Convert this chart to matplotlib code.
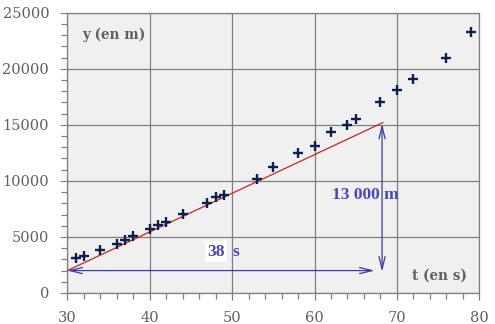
import matplotlib
matplotlib.use("Agg")
import matplotlib.pyplot as plt
from matplotlib.ticker import MultipleLocator

# measured points (t in s, y in m)
t_vals = [31, 32, 34, 36, 37, 38, 40, 41, 42, 44, 47, 48, 49,
          53, 55, 58, 60, 62, 64, 65, 68, 70, 72, 76, 79]
y_vals = [3100, 3300, 3800, 4400, 4700, 5050, 5700, 6050, 6350, 7050, 8050, 8600, 8750,
          10150, 11200, 12500, 13100, 14350, 14950, 15550, 17050, 18100, 19100, 21000, 23300]

# tangent line and its construction
line_t = [30, 68.3]
line_y = [2000, 15200]
dt_label = "38"
dy_label = "13 000 m"

grid_col = "#808080"
text_col = "#606060"
blue = "#4646c4"
arrow_col = "#3a3aa8"

fig = plt.figure(figsize=(4.95, 3.24), dpi=100)
ax = fig.add_axes([67.3 / 495, 1 - 293 / 324, (479.3 - 67.3) / 495, (293 - 12.7) / 324])
ax.set_facecolor("#f0f0f0")

ax.set_xlim(30, 80)
ax.set_ylim(0, 25000)
ax.xaxis.set_major_locator(MultipleLocator(10))
ax.xaxis.set_minor_locator(MultipleLocator(2))
ax.yaxis.set_major_locator(MultipleLocator(5000))
ax.yaxis.set_minor_locator(MultipleLocator(1000))
ax.grid(True, which="major", color=grid_col, linewidth=0.9)
ax.set_axisbelow(True)
for s in ax.spines.values():
    s.set_color(grid_col)
    s.set_linewidth(0.9)
ax.tick_params(which="major", direction="out", length=5, width=0.9, color=grid_col,
               labelsize=10.5, labelcolor=text_col, pad=8)
ax.tick_params(which="minor", direction="out", length=4, width=0.9, color=grid_col)
for lab in ax.get_xticklabels() + ax.get_yticklabels():
    lab.set_family("DejaVu Serif")

ax.plot(line_t, line_y, color="#cc2222", linewidth=0.9, zorder=3)
ax.plot(t_vals, y_vals, linestyle="none", marker="+", markersize=6.5, markeredgewidth=1.7,
        color="#0c1f4e", zorder=4)

arrow = dict(arrowstyle="<->,head_length=0.9,head_width=0.22", color=arrow_col,
             linewidth=0.9, shrinkA=0, shrinkB=0)
ax.annotate("", xy=(67.3, 2000), xytext=(30, 2000), arrowprops=arrow, zorder=3)
ax.annotate("", xy=(68.2, 1900), xytext=(68.2, 15100), arrowprops=arrow, zorder=3)

ax.text(48, 3700, dt_label, color=blue, fontsize=12.5, fontweight="bold",
        family="Liberation Serif", ha="center", va="center", zorder=5,
        bbox=dict(facecolor="white", edgecolor="none", pad=1.5))
ax.text(50.5, 3700, "s", color=blue, fontsize=12.5, fontweight="bold",
        family="Liberation Serif", ha="center", va="center", zorder=5)
ax.text(66.2, 8750, dy_label, color=blue, fontsize=12.5, fontweight="bold",
        family="Liberation Serif", ha="center", va="center", zorder=5)

ax.text(31.8, 23050, "y (en m)", color=text_col, fontsize=9.8, fontweight="bold",
        family="DejaVu Serif", ha="left", va="center")
ax.text(78.5, 1550, "t (en s)", color=text_col, fontsize=9.8, fontweight="bold",
        family="DejaVu Serif", ha="right", va="center")

fig.savefig("out.png", dpi=100)
